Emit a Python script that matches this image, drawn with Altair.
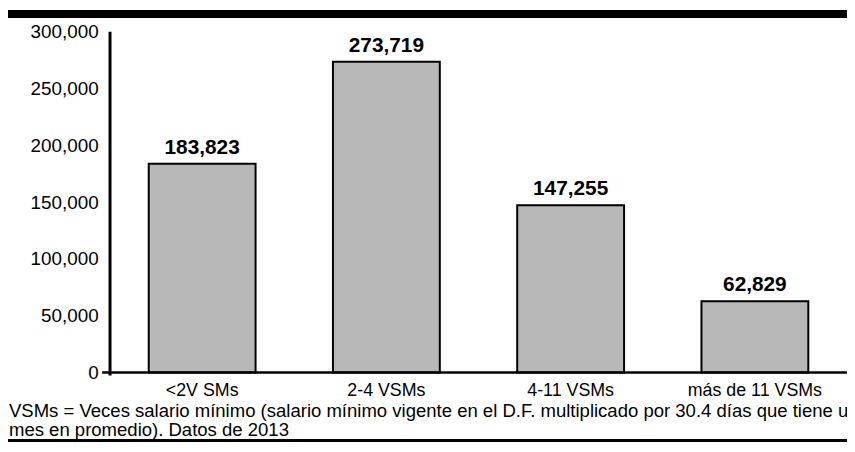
import altair as alt
import pandas as pd

categories = ["<2V SMs", "2-4 VSMs", "4-11 VSMs", "más de 11 VSMs"]
values = [183823, 273719, 147255, 62829]
y_ticks = [0, 50000, 100000, 150000, 200000, 250000, 300000]
footnote = [
    "VSMs = Veces salario mínimo (salario mínimo vigente en el D.F. multiplicado por 30.4 días que tiene un",
    "mes en promedio). Datos de 2013",
]

FONT = "Liberation Sans"
df = pd.DataFrame({"cat": categories, "val": values})
one = pd.DataFrame({"k": [0]})

x_enc = alt.X(
    "cat:N",
    sort=categories,
    scale=alt.Scale(paddingInner=0.42, paddingOuter=0.21),
    axis=alt.Axis(
        title=None, labelAngle=0, labelFontSize=18, labelColor="black",
        labelFont=FONT, labelPadding=9, ticks=False, domain=False,
    ),
)
y_enc = alt.Y(
    "val:Q",
    scale=alt.Scale(domain=[0, 300000], nice=False),
    axis=alt.Axis(
        title=None, values=y_ticks, format=",d", labelFontSize=19,
        labelFont=FONT, labelColor="black", labelPadding=12,
        ticks=False, domain=False, grid=False,
    ),
)

bars = alt.Chart(df).mark_bar(
    color="#b8b8b8", stroke="black", strokeWidth=2
).encode(x=x_enc, y=y_enc)

labels = alt.Chart(df).mark_text(
    baseline="bottom", dy=-6, fontSize=21, fontWeight="bold",
    font=FONT, color="black",
).encode(
    x=alt.X("cat:N", sort=categories),
    y="val:Q",
    text=alt.Text("val:Q", format=",d"),
)

y_axis_line = alt.Chart(one).mark_rule(color="black", strokeWidth=3).encode(
    x=alt.value(0), y=alt.value(0), y2=alt.value(347)
)
x_axis_line = alt.Chart(one).mark_rule(color="black", strokeWidth=2.5).encode(
    x=alt.value(-8), x2=alt.value(744), y=alt.value(344)
)

top_band = alt.Chart(one).mark_rect(color="black").encode(
    x=alt.value(-103), x2=alt.value(744), y=alt.value(-22), y2=alt.value(-14)
)
bottom_band = alt.Chart(one).mark_rect(color="black").encode(
    x=alt.value(-103), x2=alt.value(744), y=alt.value(411), y2=alt.value(414)
)

note1 = alt.Chart(one).mark_text(
    align="left", baseline="alphabetic", fontSize=18.7, font=FONT, color="black"
).encode(x=alt.value(-102), y=alt.value(389), text=alt.value(footnote[0]))
note2 = alt.Chart(one).mark_text(
    align="left", baseline="alphabetic", fontSize=18.7, font=FONT, color="black"
).encode(x=alt.value(-102), y=alt.value(408), text=alt.value(footnote[1]))

chart = alt.layer(
    bars, labels, y_axis_line, x_axis_line, top_band, bottom_band, note1, note2
).properties(
    width=744,
    height=344,
    autosize=alt.AutoSizeParams(type="none"),
    padding={"left": 103, "top": 22, "right": 0, "bottom": 70},
    background="white",
).configure_view(stroke=None)

chart.save("out.html", embed_options={"renderer": "svg", "actions": False})
